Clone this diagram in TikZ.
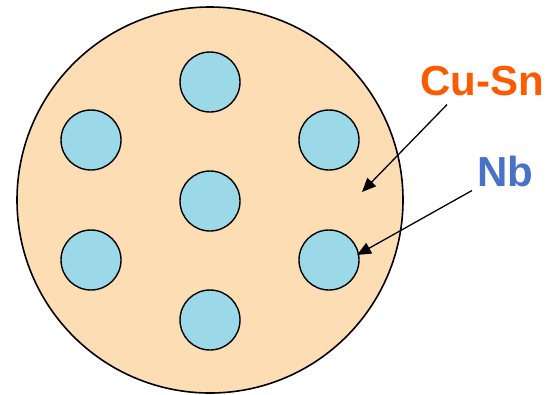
\documentclass[tikz,border=0pt]{standalone}
\usepackage{fontspec}
\setmainfont{Liberation Sans}
\definecolor{cusnfill}{RGB}{253,222,180}
\definecolor{nbfill}{RGB}{155,217,233}
\definecolor{cusnorange}{RGB}{255,90,0}
\definecolor{nbblue}{RGB}{70,114,200}
\usetikzlibrary{arrows.meta}

\begin{document}
\begin{tikzpicture}[x=1pt, y=-1pt,
  matrixdisk/.style={circle, draw=black, line width=1.6pt, fill=cusnfill,
    minimum size=386pt, inner sep=0pt},
  filament/.style={circle, draw=black, line width=1.4pt, fill=nbfill,
    minimum size=60pt, inner sep=0pt},
  lbl/.style={font=\fontsize{42}{42}\selectfont\bfseries, inner sep=0pt, anchor=base},
  arw/.style={-{Triangle[length=14pt, width=12pt]}, line width=1.3pt, black},
]
\useasboundingbox (0,0) rectangle (548,394);
\node[matrixdisk] (disk) at (210,200) {};
\node[filament] (f1) at (210,82) {};
\node[filament] (f2) at (91,140) {};
\node[filament] (f3) at (329,140) {};
\node[filament] (f4) at (210,201) {};
\node[filament] (f5) at (91,260) {};
\node[filament] (f6) at (329,260) {};
\node[filament] (f7) at (210,320) {};
\node[lbl, text=cusnorange] (cusn) at (482,95) {Cu-Sn};
\node[lbl, text=nbblue] (nb) at (505,186) {Nb};
\coordinate (cusntip) at (362,192);
\coordinate (nbtip) at (357,255);
\draw[arw] ([xshift=-35pt, yshift=-9pt]cusn.south) -- (cusntip);
\draw[arw] ([xshift=-5pt, yshift=-4pt]nb.south west) -- (nbtip);
\end{tikzpicture}
\end{document}
